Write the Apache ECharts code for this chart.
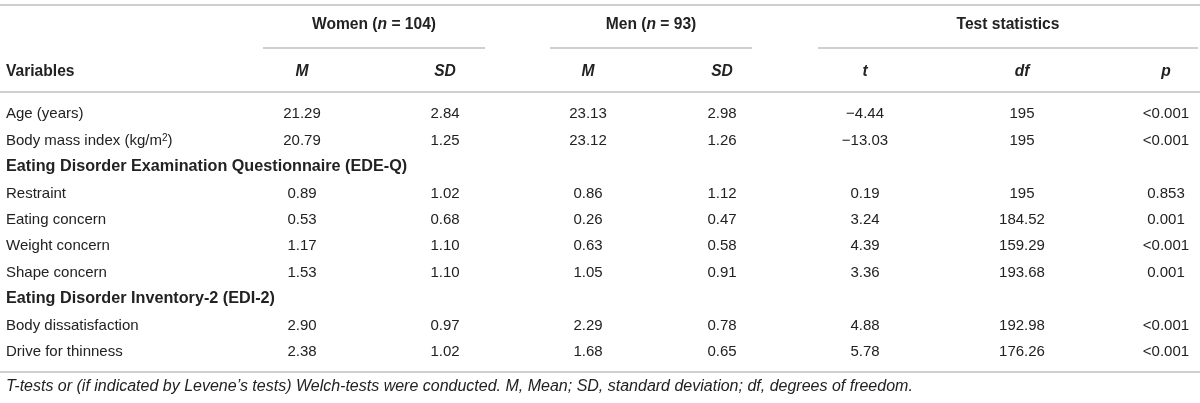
<!DOCTYPE html>
<html lang="en">
<head>
    <title>Women vs Men</title>
    <meta charset="UTF-8">
    <script src="https://cdn.jsdelivr.net/npm/echarts@6/dist/echarts.min.js"></script>
    <style>
        body {
            padding: 0;
            margin: 0;
            overflow: hidden;
            background: #fff;
        }

        #box {
            width: 1200px;
            height: 403px;
        }
    </style>
</head>
<body>
<div id="box"></div>

<script>
    // table data
    var variables = ['Age (years)', 'Body mass index (kg/m{sup|2})',
        'Eating Disorder Examination Questionnaire (EDE-Q)',
        'Restraint', 'Eating concern', 'Weight concern', 'Shape concern',
        'Eating Disorder Inventory-2 (EDI-2)',
        'Body dissatisfaction', 'Drive for thinness'];
    var sectionRows = [2, 7];
    var womenM = [21.29, 20.79, null, 0.89, 0.53, 1.17, 1.53, null, 2.90, 2.38];
    var womenSD = [2.84, 1.25, null, 1.02, 0.68, 1.10, 1.10, null, 0.97, 1.02];
    var menM = [23.13, 23.12, null, 0.86, 0.26, 0.63, 1.05, null, 2.29, 1.68];
    var menSD = [2.98, 1.26, null, 1.12, 0.47, 0.58, 0.91, null, 0.78, 0.65];
    var tStat = [-4.44, -13.03, null, 0.19, 3.24, 4.39, 3.36, null, 4.88, 5.78];
    var dfVals = ['195', '195', null, '195', '184.52', '159.29', '193.68', null, '192.98', '176.26'];
    var pVals = ['<0.001', '<0.001', null, '0.853', '0.001', '<0.001', '0.001', null, '<0.001', '<0.001'];

    var colHeads = ['M', 'SD', 'M', 'SD', 't', 'df', 'p'];
    var groups = [
        {text: '{b|Women (}{bi|n}{b| = 104)}', from: 263, to: 485},
        {text: '{b|Men (}{bi|n}{b| = 93)}', from: 550, to: 752},
        {text: '{b|Test statistics}', from: 818, to: 1198}
    ];
    var footnote = 'T-tests or (if indicated by Levene\u2019s tests) Welch-tests were conducted. M, Mean; SD, standard deviation; df, degrees of freedom.';

    // layout (x of each column: left edge for variables, centre for numbers)
    var colX = [6, 302, 445, 588, 722, 865, 1022, 1166];
    var FONT = '"Liberation Sans", Arial, Helvetica, sans-serif';
    var TXT = '#222';
    var RULE = '#cfcfcf';

    function num(v) {
        if (v === null) return '';
        var s = v.toFixed(2);
        return s.charAt(0) === '-' ? '\u2212' + s.slice(1) : s;
    }

    var columns = [
        variables,
        womenM.map(num), womenSD.map(num), menM.map(num), menSD.map(num), tStat.map(num),
        dfVals.map(function (v) { return v || ''; }),
        pVals.map(function (v) { return v || ''; })
    ];

    var series = columns.map(function (col, j) {
        return {
            type: 'custom',
            coordinateSystem: 'cartesian2d',
            silent: true,
            data: col.map(function (txt, i) { return [colX[j], i]; }),
            renderItem: function (params, api) {
                var i = params.dataIndex;
                var pt = api.coord([api.value(0), api.value(1)]);
                var bold = j === 0 && sectionRows.indexOf(i) >= 0;
                return {
                    type: 'text',
                    x: pt[0],
                    y: pt[1],
                    style: {
                        text: col[i],
                        fill: TXT,
                        fontFamily: FONT,
                        fontSize: bold ? 16.2 : 15,
                        fontWeight: bold ? 'bold' : 'normal',
                        align: j === 0 ? 'left' : 'center',
                        verticalAlign: 'middle',
                        rich: {
                            sup: {fontSize: 10, fontFamily: FONT, fill: TXT, verticalAlign: 'top'}
                        }
                    }
                };
            }
        };
    });

    function rule(x1, x2, y) {
        return {
            type: 'line', silent: true,
            shape: {x1: x1, y1: y, x2: x2, y2: y},
            style: {stroke: RULE, lineWidth: 2}
        };
    }

    var rich = {
        b: {fontFamily: FONT, fontSize: 15.6, fontWeight: 'bold', fill: TXT},
        bi: {fontFamily: FONT, fontSize: 15.6, fontWeight: 'bold', fontStyle: 'italic', fill: TXT}
    };

    var graphic = [rule(0, 1200, 5), rule(0, 1200, 92), rule(0, 1200, 372)];
    groups.forEach(function (g) {
        graphic.push(rule(g.from, g.to, 48));
        graphic.push({
            type: 'text', silent: true,
            x: (g.from + g.to) / 2, y: 25,
            style: {text: g.text, rich: rich, align: 'center', verticalAlign: 'middle'}
        });
    });
    graphic.push({
        type: 'text', silent: true, x: colX[0], y: 72,
        style: {text: '{b|Variables}', rich: rich, align: 'left', verticalAlign: 'middle'}
    });
    colHeads.forEach(function (h, k) {
        graphic.push({
            type: 'text', silent: true, x: colX[k + 1], y: 72,
            style: {text: '{bi|' + h + '}', rich: rich, align: 'center', verticalAlign: 'middle'}
        });
    });
    graphic.push({
        type: 'text', silent: true, x: colX[0], y: 387,
        style: {
            text: footnote, fill: TXT, fontFamily: FONT, fontSize: 16, fontStyle: 'italic',
            align: 'left', verticalAlign: 'middle'
        }
    });

    var myChart = echarts.init(document.getElementById('box'));
    myChart.setOption({
        animation: false,
        grid: {left: 0, right: 0, top: 101, bottom: 38},
        xAxis: {type: 'value', min: 0, max: 1200, show: false},
        yAxis: {type: 'category', data: variables, inverse: true, show: false},
        graphic: graphic,
        series: series
    });
</script>
</body>
</html>
